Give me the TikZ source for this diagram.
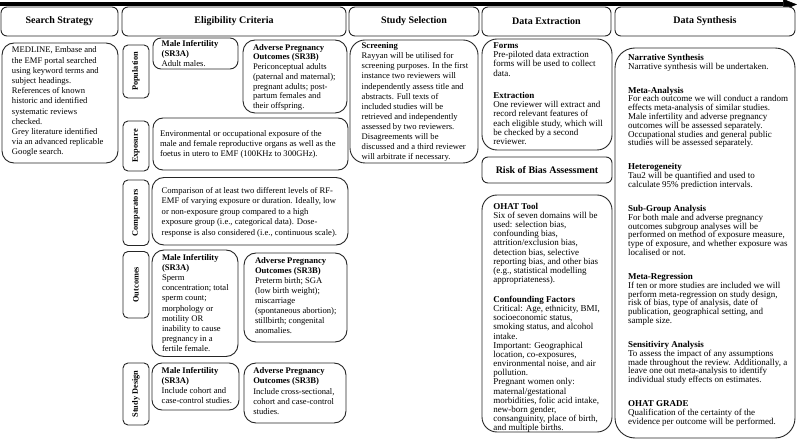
\documentclass[tikz,border=0pt]{standalone}
\usepackage{fontspec}
\setmainfont{Liberation Serif}
\usetikzlibrary{arrows.meta}
\newcommand\bodyfont[2]{\fontsize{#1}{#2}\selectfont\lineskiplimit=-10pt\lineskip=0pt}
\tikzset{
  rbox/.style={draw=black!85, line width=0.9pt, fill=white, inner sep=0pt, outer sep=0pt},
  hdrtext/.style={font=\fontsize{10}{12}\selectfont\bfseries},
  txt/.style={inner sep=0pt, outer sep=0pt, anchor=north west, align=left},
  vlbl/.style={rotate=90, inner sep=0pt, font=\fontsize{8.3}{10}\selectfont\bfseries},
}
\newcommand\mkbox[6]{\node[rbox,rounded corners=#6,minimum width={#4-#2},minimum height={#5-#3}] (#1) at ({(#2+#4)/2},{(#3+#5)/2}) {};}
\newcommand\mkhdr[6]{\node[rbox,hdrtext,rounded corners=6pt,minimum width={#4-#2},minimum height={#5-#3}] (#1) at ({(#2+#4)/2},{(#3+#5)/2}) {#6};}
\begin{document}
\begin{tikzpicture}[x=1pt,y=-1pt]
\useasboundingbox (0,0) rectangle (797,443);
% timeline arrow
\coordinate (arrS) at (0,4.5);
\coordinate (arrE) at (797,4.5);
\draw[line width=4pt, -{Triangle[length=14pt,width=11pt,line width=0.5pt]}] (arrS) -- (arrE);
% headers
\mkhdr{hSearch}{1}{7}{118}{36}{Search Strategy}
\mkhdr{hElig}{122}{7}{346}{36}{Eligibility Criteria}
\mkhdr{hSel}{349}{7}{479}{36}{Study Selection}
\mkhdr{hExt}{482}{7}{611}{36}{Data Extraction}
\mkhdr{hSyn}{615}{7}{795}{36}{Data Synthesis}
% search strategy
\mkbox{bSearch}{2}{43}{118}{163}{12pt}
\node[txt, font=\bodyfont{8.6}{10.2}] (tSearch) at (12,47) {MEDLINE, Embase and\\the EMF portal searched\\using keyword terms and\\subject headings.\\References of known\\historic and identified\\systematic reviews\\checked.\\Grey literature identified\\via an advanced replicable\\Google search.};
% eligibility: labels
\mkbox{lPop}{123}{45}{149}{98}{5pt}
\node[vlbl] (lPopT) at (lPop.center) {Population};
\mkbox{lExp}{123}{121}{149}{171}{5pt}
\node[vlbl] (lExpT) at (lExp.center) {Exposure};
\mkbox{lCom}{123}{180}{149}{245.5}{5pt}
\node[vlbl] (lComT) at (lCom.center) {Comparators};
\mkbox{lOut}{123}{251.5}{149}{318}{5pt}
\node[vlbl] (lOutT) at (lOut.center) {Outcomes};
\mkbox{lSD}{123}{363}{149}{425}{5pt}
\node[vlbl] (lSDT) at (lSD.center) {Study Design};
% population
\mkbox{bPopM}{153}{38}{238}{69}{8pt}
\node[txt, font=\bodyfont{8.6}{10}] (tPopM) at (161.7,40) {\textbf{Male Infertility}\\\textbf{(SR3A)}\\Adult males.};
\mkbox{bPopA}{243}{40}{347}{113}{12pt}
\node[txt, font=\bodyfont{8.6}{9.7}] (tPopA) at (253,44.3) {\textbf{Adverse Pregnancy}\\\textbf{Outcomes (SR3B)}\\Periconceptual adults\\(paternal and maternal);\\pregnant adults; post-\\partum females and\\their offspring.};
% exposure
\mkbox{bExp}{153}{118}{348}{170}{10pt}
\node[txt, font=\bodyfont{8.6}{10.2}] (tExp) at (160,130.3) {Environmental or occupational exposure of the\\male and female reproductive organs as well as the\\foetus in utero to EMF (100KHz to 300GHz).};
% comparators
\mkbox{bCom}{152}{177.5}{348}{245}{12pt}
\node[txt, font=\bodyfont{8.6}{10.4}] (tCom) at (161.7,187.5) {Comparison of at least two different levels of RF-\\EMF of varying exposure or duration. Ideally, low\\or non-exposure group compared to a high\\exposure group (i.e., categorical data). Dose-\\response is also considered (i.e., continuous scale).};
% outcomes
\mkbox{bOutM}{152}{250}{238}{356.5}{12pt}
\node[txt, font=\bodyfont{8.6}{10.2}] (tOutM) at (162,254) {\textbf{Male Infertility}\\\textbf{(SR3A)}\\Sperm\\concentration; total\\sperm count;\\morphology or\\motility OR\\inability to cause\\pregnancy in a\\fertile female.};
\mkbox{bOutA}{244}{253}{347}{342}{12pt}
\node[txt, font=\bodyfont{8.6}{10}] (tOutA) at (255,257.5) {\textbf{Adverse Pregnancy}\\\textbf{Outcomes (SR3B)}\\Preterm birth; SGA\\(low birth weight);\\miscarriage\\(spontaneous abortion);\\stillbirth; congenital\\anomalies.};
% study design
\mkbox{bSDM}{152}{363}{239}{410}{10pt}
\node[txt, font=\bodyfont{8.6}{10}] (tSDM) at (161.7,367.7) {\textbf{Male Infertility}\\\textbf{(SR3A)}\\Include cohort and\\case-control studies.};
\mkbox{bSDA}{244}{363}{346}{423}{12pt}
\node[txt, font=\bodyfont{8.6}{10.2}] (tSDA) at (253.3,367.7) {\textbf{Adverse Pregnancy}\\\textbf{Outcomes (SR3B)}\\Include cross-sectional,\\cohort and case-control\\studies.};
% study selection
\mkbox{bScr}{350}{40}{478}{163}{15pt}
\node[txt, font=\bodyfont{8.6}{10.1}] (tScr) at (361.7,42.7) {\textbf{Screening}\\Rayyan will be utilised for\\screening purposes. In the first\\instance two reviewers will\\independently assess title and\\abstracts. Full texts of\\included studies will be\\retrieved and independently\\assessed by two reviewers.\\Disagreements will be\\discussed and a third reviewer\\will arbitrate if necessary.};
% data extraction
\mkbox{bForms}{482}{39}{612}{150}{15pt}
\node[txt, font=\bodyfont{9}{9.2}] (tForms) at (493.3,42.7) {\textbf{Forms}\\Pre-piloted data extraction\\forms will be used to collect\\data.\\[13.2pt]\textbf{Extraction}\\One reviewer will extract and\\record relevant features of\\each eligible study, which will\\be checked by a second\\reviewer.};
\mkhdr{hRisk}{482}{157}{612}{183}{Risk of Bias Assessment}
\mkbox{bOhat}{482}{195}{612}{432}{15pt}
\node[txt, font=\bodyfont{9}{9.16}] (tOhat) at (493.3,203) {\textbf{OHAT Tool}\\Six of seven domains will be\\used: selection bias,\\confounding bias,\\attrition/exclusion bias,\\detection bias, selective\\reporting bias, and other bias\\(e.g., statistical modelling\\appropriateness).\\[10.8pt]\textbf{Confounding Factors}\\Critical: Age, ethnicity, BMI,\\socioeconomic status,\\smoking status, and alcohol\\intake.\\Important: Geographical\\location, co-exposures,\\environmental noise, and air\\pollution.\\Pregnant women only:\\maternal/gestational\\morbidities, folic acid intake,\\new-born gender,\\consanguinity, place of birth,\\and multiple births.};
% data synthesis
\mkbox{bSyn}{615}{48}{795}{438}{20pt}
\node[txt, font=\bodyfont{9}{8.8}] (tSyn) at (628,54) {\textbf{Narrative Synthesis}\\Narrative synthesis will be undertaken.\\[15.2pt]\textbf{Meta-Analysis}\\For each outcome we will conduct a random\\effects meta-analysis of similar studies.\\Male infertility and adverse pregnancy\\outcomes will be assessed separately.\\Occupational studies and general public\\studies will be assessed separately.\\[15.2pt]\textbf{Heterogeneity}\\Tau2 will be quantified and used to\\calculate 95\% prediction intervals.\\[15.2pt]\textbf{Sub-Group Analysis}\\For both male and adverse pregnancy\\outcomes subgroup analyses will be\\performed on method of exposure measure,\\type of exposure, and whether exposure was\\localised or not.\\[15.2pt]\textbf{Meta-Regression}\\If ten or more studies are included we will\\perform meta-regression on study design,\\risk of bias, type of analysis, date of\\publication, geographical setting, and\\sample size.\\[15.2pt]\textbf{Sensitiviry Analysis}\\To assess the impact of any assumptions\\made throughout the review. Additionally, a\\leave one out meta-analysis to identify\\individual study effects on estimates.\\[15.2pt]\textbf{OHAT GRADE}\\Qualification of the certainty of the\\evidence per outcome will be performed.};
\end{tikzpicture}
\end{document}
